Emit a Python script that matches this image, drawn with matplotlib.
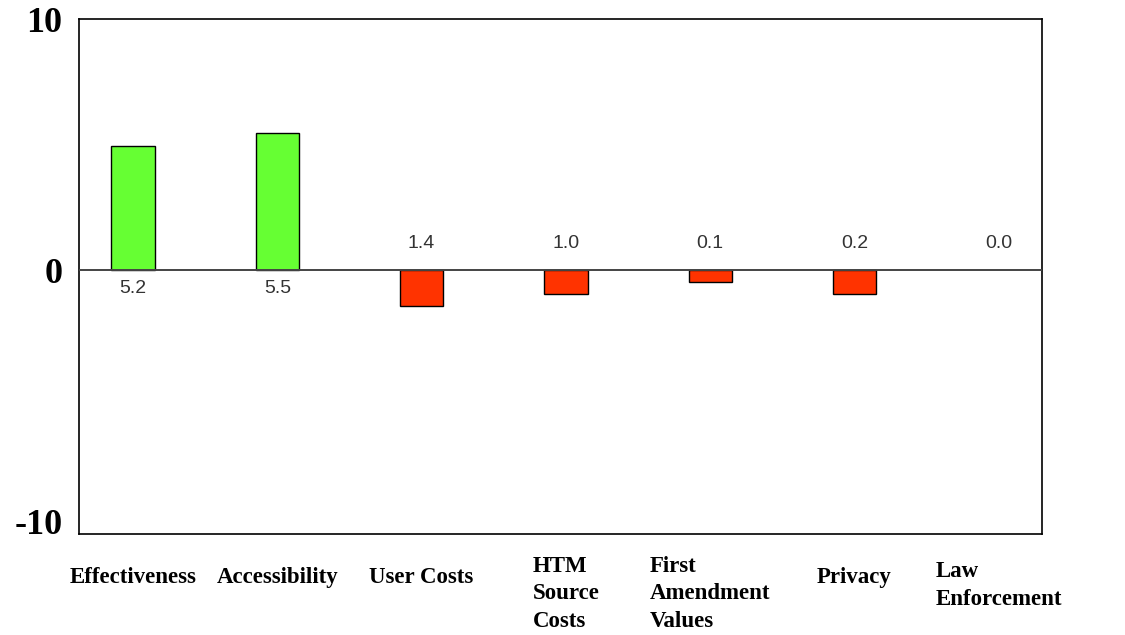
import matplotlib
matplotlib.use("Agg")
import matplotlib.pyplot as plt

categories = ["Effectiveness", "Accessibility", "User Costs", "HTM\nSource\nCosts",
              "First\nAmendment\nValues", "Privacy", "Law\nEnforcement"]
values = [4.95, 5.45, -1.43, -0.93, -0.47, -0.93, 0.0]
value_labels = ["5.2", "5.5", "1.4", "1.0", "0.1", "0.2", "0.0"]
y_ticks = [10, 0, -10]

fig = plt.figure(figsize=(11.25, 6.35), dpi=100)
ax = fig.add_axes([0.0702, 0.159, 0.856, 0.811])

x = list(range(len(categories)))
colors = ["#66FF33" if v > 0 else "#FF3300" for v in values]
edges = ["black" if v != 0 else "none" for v in values]
ax.bar(x, values, width=0.3, color=colors, edgecolor=edges, linewidth=1.0, zorder=3)
ax.axhline(0, color="#444444", linewidth=1.4, zorder=4)

ax.set_ylim(-10.5, 10)
ax.set_xlim(-0.375, 6.3)
ax.set_yticks(y_ticks)
ax.set_yticklabels([str(t) for t in y_ticks], fontfamily="Liberation Serif",
                   fontweight="bold", fontsize=26)
ax.tick_params(axis="y", length=0, pad=12)
ax.set_xticks([])
for s in ax.spines.values():
    s.set_color("black")
    s.set_linewidth(1.2)

for xi, v, lab in zip(x, values, value_labels):
    off = -13 if v > 0 else 19.5
    ax.annotate(lab, (xi, 0), xytext=(0, off), textcoords="offset points",
                ha="center", va="center", fontsize=14, color="#333333",
                fontfamily="Liberation Sans")

for xi, cat in zip(x, categories):
    n = cat.count("\n") + 1
    ax.annotate(cat, (xi, -10.5), xytext=(0, -31 - (n - 1) * 6.0),
                textcoords="offset points", ha="center", va="center",
                multialignment="left", fontsize=16.5, fontweight="bold",
                fontfamily="Liberation Serif", linespacing=1.42, annotation_clip=False)

fig.savefig("out.png", dpi=100, facecolor="white")
